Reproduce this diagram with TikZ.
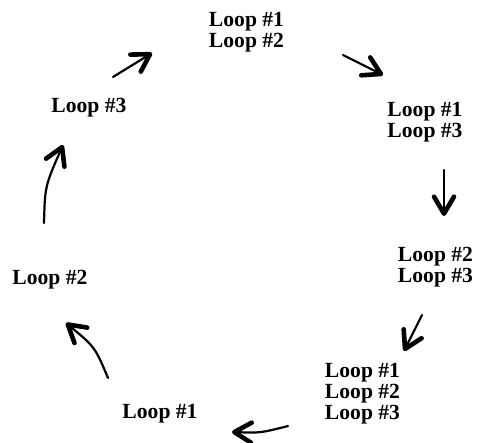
\documentclass[tikz,border=0pt]{standalone}
\usepackage{fontspec}
\setmainfont{Liberation Serif}
\usetikzlibrary{arrows.meta}
\begin{document}
\begin{tikzpicture}[x=1pt,y=-1pt,
  loop/.style={font=\fontsize{21.6pt}{21pt}\selectfont\bfseries, align=center, inner sep=0pt},
  flow/.style={line width=2.2pt, line cap=round,
    -{Straight Barb[length=17pt,width=20pt,line width=4.6pt,round]}}]
\useasboundingbox (0,0) rectangle (478,443);

% loop-set labels around the cycle
\node[loop] (s12)  at (246.5,32.5) {Loop \#1\\Loop \#2};
\node[loop] (s13)  at (425,122)    {Loop \#1\\Loop \#3};
\node[loop] (s23)  at (435.5,267.5){Loop \#2\\Loop \#3};
\node[loop] (s123) at (362.5,393.5){Loop \#1\\Loop \#2\\Loop \#3};
\node[loop] (s1)   at (160,414)    {Loop \#1};
\node[loop] (s2)   at (50,280)     {Loop \#2};
\node[loop] (s3)   at (89,108)     {Loop \#3};

% arrow end points between the labels
\coordinate (a1s) at (113,77);  \coordinate (a1e) at (152,53);
\coordinate (a2s) at (343,55);  \coordinate (a2e) at (383,75);
\coordinate (a3s) at (444,170); \coordinate (a3e) at (444,216);
\coordinate (a4s) at (422,315); \coordinate (a4e) at (404,351);
\coordinate (a5s) at (288,426); \coordinate (a5e) at (232,432);
\coordinate (a6s) at (108,378); \coordinate (a6e) at (66,323);
\coordinate (a7s) at (44,223);  \coordinate (a7e) at (63,145);

\draw[flow] (a1s) -- (a1e);
\draw[flow] (a2s) -- (a2e);
\draw[flow] (a3s) -- (a3e);
\draw[flow] (a4s) -- (a4e);
\draw[flow] (a5s) .. controls (260.5,433) .. (a5e);
\draw[flow] (a6s) .. controls (95,347) .. (a6e);
\draw[flow] (a7s) .. controls (45,186) .. (a7e);
\end{tikzpicture}
\end{document}
